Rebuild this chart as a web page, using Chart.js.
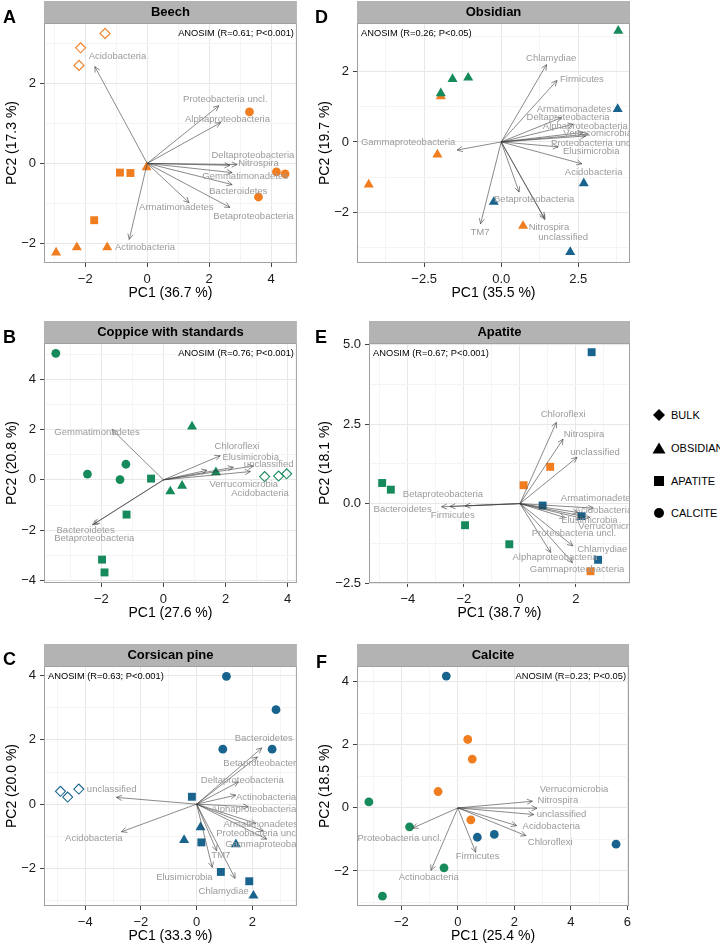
<!DOCTYPE html>
<html lang="en">
<head>
<meta charset="UTF-8" />
<title>PCA biplots by forest and mineral</title>
<script src="https://cdn.jsdelivr.net/npm/chart.js"></script>
<style>
  html, body { margin: 0; padding: 0; background: #fff; overflow: hidden; }
  body { width: 720px; height: 946px; position: relative; font-family: "Liberation Sans", Arial, sans-serif; }
  canvas { position: absolute; }
  .tag { position: absolute; font-weight: bold; font-size: 18px; line-height: 18px; color: #000; }
  .key { position: absolute; left: 652px; height: 14px; display: flex; align-items: center; font-size: 11px; color: #000; }
  .key svg { width: 14px; height: 14px; margin-right: 5px; }
</style>
</head>
<body>

<div class="key" style="top:408px"><svg viewBox="0 0 14 14"><polygon points="7,1 13,7 7,13 1,7" fill="#000"/></svg>BULK</div>
<div class="key" style="top:441px"><svg viewBox="0 0 14 14"><polygon points="7,1.5 13.5,12.5 0.5,12.5" fill="#000"/></svg>OBSIDIAN</div>
<div class="key" style="top:474px"><svg viewBox="0 0 14 14"><rect x="2" y="2" width="10" height="10" fill="#000"/></svg>APATITE</div>
<div class="key" style="top:506px"><svg viewBox="0 0 14 14"><circle cx="7" cy="7" r="5" fill="#000"/></svg>CALCITE</div>

<script>
// ---- data: samples are [forest, mineral, PC1, PC2] ----
const beechSamples = [
  ['beech', 'bulk', -1.36, 3.25], ['beech', 'bulk', -2.15, 2.89], ['beech', 'bulk', -2.2, 2.45],
  ['beech', 'apatite', -0.88, -0.23], ['beech', 'apatite', -0.54, -0.24], ['beech', 'apatite', -1.71, -1.42],
  ['beech', 'obsidian', -0.02, -0.1], ['beech', 'obsidian', -2.94, -2.23], ['beech', 'obsidian', -2.27, -2.1], ['beech', 'obsidian', -1.29, -2.1],
  ['beech', 'calcite', 3.3, 1.29], ['beech', 'calcite', 4.17, -0.21], ['beech', 'calcite', 4.45, -0.26], ['beech', 'calcite', 3.59, -0.84]
];
const coppiceSamples = [
  ['coppice', 'calcite', -3.47, 5.03], ['coppice', 'calcite', -2.45, 0.23], ['coppice', 'calcite', -1.21, 0.62], ['coppice', 'calcite', -1.4, 0.01],
  ['coppice', 'apatite', -0.4, 0.05], ['coppice', 'apatite', -1.19, -1.38], ['coppice', 'apatite', -1.98, -3.17], ['coppice', 'apatite', -1.9, -3.68],
  ['coppice', 'obsidian', 0.92, 2.12], ['coppice', 'obsidian', 1.69, 0.3], ['coppice', 'obsidian', 0.22, -0.46], ['coppice', 'obsidian', 0.6, -0.24],
  ['coppice', 'bulk', 3.26, 0.13], ['coppice', 'bulk', 3.71, 0.15], ['coppice', 'bulk', 3.97, 0.24]
];
const pineSamples = [
  ['pine', 'calcite', 1.07, 3.98], ['pine', 'calcite', 2.85, 2.94], ['pine', 'calcite', 0.94, 1.71], ['pine', 'calcite', 2.71, 1.71],
  ['pine', 'bulk', -4.89, 0.4], ['pine', 'bulk', -4.63, 0.22], ['pine', 'bulk', -4.23, 0.47],
  ['pine', 'apatite', -0.17, 0.23], ['pine', 'apatite', 0.17, -1.19], ['pine', 'apatite', 0.87, -2.11], ['pine', 'apatite', 1.89, -2.4],
  ['pine', 'obsidian', 0.14, -0.72], ['pine', 'obsidian', -0.45, -1.12], ['pine', 'obsidian', 1.41, -1.25], ['pine', 'obsidian', 2.04, -2.85]
];
const obsidianSamples = [
  ['coppice', 'obsidian', 3.8, 3.15], ['coppice', 'obsidian', -1.58, 1.78], ['coppice', 'obsidian', -1.07, 1.82], ['coppice', 'obsidian', -1.96, 1.38],
  ['beech', 'obsidian', -1.96, 1.29], ['beech', 'obsidian', -2.07, -0.36], ['beech', 'obsidian', -4.3, -1.21], ['beech', 'obsidian', 0.71, -2.38],
  ['pine', 'obsidian', 3.78, 0.93], ['pine', 'obsidian', 2.68, -1.17], ['pine', 'obsidian', -0.24, -1.7], ['pine', 'obsidian', 2.24, -3.12]
];
const apatiteSamples = [
  ['beech', 'apatite', 1.08, 1.16], ['beech', 'apatite', 0.13, 0.58], ['beech', 'apatite', 2.52, -2.13],
  ['pine', 'apatite', 2.56, 4.77], ['pine', 'apatite', 0.81, -0.06], ['pine', 'apatite', 2.2, -0.39], ['pine', 'apatite', 2.79, -1.77],
  ['coppice', 'apatite', -4.92, 0.65], ['coppice', 'apatite', -4.61, 0.44], ['coppice', 'apatite', -1.96, -0.68], ['coppice', 'apatite', -0.38, -1.28]
];
const calciteSamples = [
  ['pine', 'calcite', -0.41, 4.18], ['pine', 'calcite', 0.69, -0.93], ['pine', 'calcite', 1.29, -0.84], ['pine', 'calcite', 5.6, -1.15],
  ['beech', 'calcite', 0.35, 2.17], ['beech', 'calcite', 0.51, 1.55], ['beech', 'calcite', -0.7, 0.52], ['beech', 'calcite', 0.46, -0.38],
  ['coppice', 'calcite', -3.15, 0.19], ['coppice', 'calcite', -1.71, -0.6], ['coppice', 'calcite', -0.49, -1.9], ['coppice', 'calcite', -2.67, -2.8]
];

// ---- loadings: [taxon, tip PC1, tip PC2, label PC1, label PC2] ----
const beechArrows = [
  ['Acidobacteria', -1.69, 2.42, -0.96, 2.67],
  ['Proteobacteria uncl.', 2.31, 1.44, 2.52, 1.6],
  ['Alphaproteobacteria', 2.37, 1.02, 2.59, 1.11],
  ['Deltaproteobacteria', 2.67, -0.05, 3.41, 0.21],
  ['Nitrospira', 2.9, -0.03, 3.59, -0.01],
  ['Gemmatimonadetes', 2.74, -0.23, 3.16, -0.33],
  ['Bacteroidetes', 2.74, -0.53, 2.94, -0.71],
  ['Betaproteobacteria', 2.67, -1.1, 3.43, -1.33],
  ['Armatimonadetes', 1.35, -0.98, 0.94, -1.09],
  ['Actinobacteria', -0.58, -1.9, -0.07, -2.11]
];
const coppiceArrows = [
  ['Gemmatimonadetes', -1.66, 2.0, -2.14, 1.89],
  ['Chloroflexi', 1.83, 0.96, 2.37, 1.32],
  ['Elusimicrobia', 2.25, 0.5, 2.81, 0.9],
  ['unclassified', 2.9, 0.55, 3.39, 0.62],
  ['Verrucomicrobia', 2.8, 0.33, 2.59, -0.19],
  ['Acidobacteria', 1.4, 0.38, 3.11, -0.52],
  ['Bacteroidetes', -2.29, -1.79, -2.51, -2.0],
  ['Betaproteobacteria', -2.23, -1.75, -2.23, -2.31]
];
const pineArrows = [
  ['unclassified', -2.88, 0.21, -3.05, 0.47],
  ['Acidobacteria', -2.7, -0.86, -3.69, -1.07],
  ['Bacteroidetes', 2.34, 1.75, 2.41, 2.05],
  ['Betaproteobacteria', 2.18, 1.47, 2.4, 1.26],
  ['Deltaproteobacteria', 1.5, 0.69, 1.64, 0.75],
  ['Actinobacteria', 1.41, 0.28, 2.49, 0.2],
  ['Alphaproteobacteria', 1.86, -0.08, 2.05, -0.17],
  ['Armatimonadetes', 2.13, -0.6, 2.3, -0.62],
  ['Proteobacteria uncl.', 2.4, -0.84, 2.22, -0.91],
  ['Gammaproteobacteria', 2.52, -1.09, 2.72, -1.25],
  ['TM7', 0.72, -1.45, 0.87, -1.58],
  ['Elusimicrobia', 0.56, -1.97, -0.44, -2.28],
  ['Chlamydiae', 1.38, -2.31, 0.97, -2.7]
];
const obsidianArrows = [
  ['Chlamydiae', 1.47, 2.19, 1.62, 2.38],
  ['Firmicutes', 1.81, 1.74, 2.62, 1.78],
  ['Armatimonadetes', 1.96, 0.69, 2.36, 0.92],
  ['Deltaproteobacteria', 2.34, 0.5, 2.17, 0.7],
  ['Alphaproteobacteria', 2.66, 0.27, 2.73, 0.43],
  ['Verrucomicrobia', 2.83, 0.22, 3.13, 0.24],
  ['Proteobacteria uncl.', 1.85, -0.14, 2.99, -0.03],
  ['Elusimicrobia', 2.74, 0.17, 2.92, -0.28],
  ['Acidobacteria', 2.62, -0.62, 3.0, -0.87],
  ['Betaproteobacteria', 0.58, -1.42, 1.07, -1.62],
  ['Nitrospira', 1.42, -2.2, 1.55, -2.41],
  ['unclassified', 1.4, -2.15, 2.01, -2.7],
  ['TM7', -0.67, -2.32, -0.69, -2.56],
  ['Gammaproteobacteria', -1.43, -0.23, -3.02, -0.02]
];
const apatiteArrows = [
  ['Chloroflexi', 1.3, 2.56, 1.54, 2.8],
  ['Nitrospira', 1.54, 2.03, 2.29, 2.17],
  ['unclassified', 2.04, 1.46, 2.68, 1.61],
  ['Betaproteobacteria', -2.5, -0.09, -2.75, 0.29],
  ['Bacteroidetes', -2.8, -0.1, -4.19, -0.19],
  ['Firmicutes', -1.96, -0.07, -2.4, -0.38],
  ['Armatimonadetes', 2.62, -0.14, 2.79, 0.17],
  ['Acidobacteria', 2.5, -0.44, 2.98, -0.22],
  ['Elusimicrobia', 2.08, -0.28, 2.48, -0.53],
  ['Verrucomicrobia', 2.2, -0.46, 3.31, -0.71],
  ['Proteobacteria uncl.', 1.61, -0.44, 1.93, -0.94],
  ['Chlamydiae', 1.89, -1.33, 2.94, -1.44],
  ['Alphaproteobacteria', 1.1, -1.54, 1.25, -1.7],
  ['Gammaproteobacteria', 1.88, -1.86, 2.04, -2.07]
];
const calciteArrows = [
  ['Verrucomicrobia', 2.64, 0.21, 4.11, 0.6],
  ['Nitrospira', 2.8, -0.01, 3.54, 0.24],
  ['unclassified', 2.69, -0.21, 3.67, -0.21],
  ['Acidobacteria', 2.08, -0.56, 3.31, -0.58],
  ['Chloroflexi', 2.41, -0.88, 3.27, -1.1],
  ['Firmicutes', 0.63, -1.4, 0.7, -1.55],
  ['Actinobacteria', -0.95, -1.98, -1.03, -2.2],
  ['Proteobacteria uncl.', -1.6, -0.64, -2.06, -0.98]
];

// ---- major tick labels ----
const beechXTicks = [-2, 0, 2, 4],     beechYTicks = [-2, 0, 2];
const coppiceXTicks = [-2, 0, 2, 4],   coppiceYTicks = [-4, -2, 0, 2, 4];
const pineXTicks = [-4, -2, 0, 2],     pineYTicks = [-2, 0, 2, 4];
const obsidianXTicks = [-2.5, 0, 2.5], obsidianYTicks = [-2, 0, 2];
const apatiteXTicks = [-4, -2, 0, 2],  apatiteYTicks = [-2.5, 0, 2.5, 5];
const calciteXTicks = [-2, 0, 2, 4, 6], calciteYTicks = [-2, 0, 2, 4];

// ---- styling ----
const FONT = '"Liberation Sans", Arial, Helvetica, sans-serif';
const STRIP = 22, XAXIS_H = 43;
const ARROW = 'rgba(60,60,60,0.6)';
const forestColor = { beech: '#F07D1F', coppice: '#168A5A', pine: '#18648E' };
const mineralStyle = {
  bulk:     { pointStyle: 'rectRot',  radius: 5,   open: true },
  obsidian: { pointStyle: 'triangle', radius: 5.8 },
  apatite:  { pointStyle: 'rect',     radius: 5.6 },
  calcite:  { pointStyle: 'circle',   radius: 4.4 }
};
Chart.defaults.font.family = FONT;

const panels = [
  { tag: 'A', tagPos: [3, 8], box: [0, 1, 303, 305], yAxisW: 44, title: 'Beech',
    samples: beechSamples, arrows: beechArrows, xTicks: beechXTicks, yTicks: beechYTicks,
    x: [-3.33, 4.83], y: [-2.49, 3.51], dec: 0, xTitle: 'PC1 (36.7 %)', yTitle: 'PC2 (17.3 %)',
    anosim: 'ANOSIM (R=0.61; P<0.001)', anosimRight: true },
  { tag: 'D', tagPos: [315, 8], box: [313, 1, 323, 305], yAxisW: 44, title: 'Obsidian',
    samples: obsidianSamples, arrows: obsidianArrows, xTicks: obsidianXTicks, yTicks: obsidianYTicks,
    x: [-4.68, 4.18], y: [-3.43, 3.37], dec: 1, yDec: 0, xTitle: 'PC1 (35.5 %)', yTitle: 'PC2 (19.7 %)',
    anosim: 'ANOSIM (R=0.26; P<0.05)', anosimRight: false },
  { tag: 'B', tagPos: [3, 328], box: [0, 321, 303, 305], yAxisW: 44, title: 'Coppice with standards',
    samples: coppiceSamples, arrows: coppiceArrows, xTicks: coppiceXTicks, yTicks: coppiceYTicks,
    x: [-3.85, 4.3], y: [-4.1, 5.44], dec: 0, xTitle: 'PC1 (27.6 %)', yTitle: 'PC2 (20.8 %)',
    anosim: 'ANOSIM (R=0.76; P<0.001)', anosimRight: true },
  { tag: 'E', tagPos: [315, 328], box: [313, 321, 323, 305], yAxisW: 56, title: 'Apatite',
    samples: apatiteSamples, arrows: apatiteArrows, xTicks: apatiteXTicks, yTicks: apatiteYTicks,
    x: [-5.39, 3.93], y: [-2.5, 5.06], dec: 0, yDec: 1, xTitle: 'PC1 (38.7 %)', yTitle: 'PC2 (18.1 %)',
    anosim: 'ANOSIM (R=0.67; P<0.001)', anosimRight: false },
  { tag: 'C', tagPos: [3, 650], box: [0, 644, 303, 305], yAxisW: 44, title: 'Corsican pine',
    samples: pineSamples, arrows: pineArrows, xTicks: pineXTicks, yTicks: pineYTicks,
    x: [-5.48, 3.6], y: [-3.17, 4.3], dec: 0, xTitle: 'PC1 (33.3 %)', yTitle: 'PC2 (20.0 %)',
    anosim: 'ANOSIM (R=0.63; P<0.001)', anosimRight: false },
  { tag: 'F', tagPos: [316, 653], box: [313, 644, 323, 305], yAxisW: 44, title: 'Calcite',
    samples: calciteSamples, arrows: calciteArrows, xTicks: calciteXTicks, yTicks: calciteYTicks,
    x: [-3.57, 6.06], y: [-3.11, 4.5], dec: 0, xTitle: 'PC1 (25.4 %)', yTitle: 'PC2 (18.5 %)',
    anosim: 'ANOSIM (R=0.23; P<0.05)', anosimRight: true }
];

function fmt(v, dec) {
  return (v < -1e-9 ? '\u2212' : '') + Math.abs(v).toFixed(dec);
}

// majors from the arrays, light minor lines half way between them
function buildTicks(majors, lo, hi) {
  const step = majors[1] - majors[0];
  const out = [[majors[0] - step / 2, false]];
  majors.forEach(v => { out.push([v, true]); out.push([v + step / 2, false]); });
  return out.filter(([v]) => v >= lo - 1e-9 && v <= hi + 1e-9)
    .sort((a, b) => a[0] - b[0])
    .map(([v, m]) => ({ value: v, isMajor: m }));
}

function axis(p, isX) {
  const ticks = isX ? p.xTicks : p.yTicks;
  const [lo, hi] = isX ? p.x : p.y;
  const dec = isX ? p.dec : (p.yDec !== undefined ? p.yDec : p.dec);
  return {
    type: 'linear', min: lo, max: hi, bounds: 'data',
    afterBuildTicks: s => { s.ticks = buildTicks(ticks, lo, hi); },
    afterFit: s => { if (isX) s.height = XAXIS_H; else s.width = p.yAxisW; },
    grid: {
      color: c => (c.tick && c.tick.isMajor) ? '#e8e8e8' : '#f4f4f4',
      tickColor: c => (c.tick && c.tick.isMajor) ? '#444' : 'rgba(0,0,0,0)',
      tickLength: 4, lineWidth: 1
    },
    border: { display: false },
    ticks: {
      autoSkip: false, maxRotation: 0, padding: isX ? 5 : 4, color: '#1a1a1a', font: { size: 13 },
      callback: (v, i, t) => t[i].isMajor ? fmt(v, dec) : ''
    },
    title: { display: true, text: isX ? p.xTitle : p.yTitle, color: '#000', font: { size: 14 }, padding: { top: 4, bottom: 4 } }
  };
}

function pointSets(samples) {
  const groups = [];
  samples.forEach(([forest, mineral, x, y]) => {
    let g = groups.find(g => g.forest === forest && g.mineral === mineral);
    if (!g) { g = { forest, mineral, data: [] }; groups.push(g); }
    g.data.push({ x, y });
  });
  return groups.map((g, i) => {
    const st = mineralStyle[g.mineral], col = forestColor[g.forest];
    return {
      type: 'scatter', data: g.data, order: 1 + i,
      pointStyle: st.pointStyle, pointRadius: st.radius, pointHoverRadius: st.radius,
      backgroundColor: st.open ? 'rgba(0,0,0,0)' : col,
      borderColor: col, borderWidth: st.open ? 1.1 : 0
    };
  });
}

function arrowSets(arrows) {
  return arrows.map(([name, x, y]) => ({
    type: 'line', label: name, data: [{ x: 0, y: 0 }, { x, y }], order: 0,
    showLine: true, borderColor: ARROW, borderWidth: 1, pointRadius: 0, tension: 0
  }));
}

function decor(p) {
  return {
    id: 'decor',
    beforeDraw(chart) {
      const { ctx, chartArea: a } = chart;
      ctx.save();
      ctx.fillStyle = '#b3b3b3';
      ctx.fillRect(a.left, a.top - STRIP, a.right - a.left, STRIP);
      ctx.fillStyle = '#000';
      ctx.font = 'bold 13px ' + FONT;
      ctx.textAlign = 'center';
      ctx.textBaseline = 'middle';
      ctx.fillText(p.title, (a.left + a.right) / 2, a.top - STRIP / 2);
      ctx.restore();
    },
    afterDatasetsDraw(chart) {
      const { ctx, chartArea: a, scales: { x, y } } = chart;
      const ox = x.getPixelForValue(0), oy = y.getPixelForValue(0);
      ctx.save();
      ctx.beginPath();
      ctx.rect(a.left, a.top, a.right - a.left, a.bottom - a.top);
      ctx.clip();
      // open arrow heads
      ctx.strokeStyle = ARROW;
      ctx.lineWidth = 1;
      p.arrows.forEach(([, ax, ay]) => {
        const px = x.getPixelForValue(ax), py = y.getPixelForValue(ay);
        const ang = Math.atan2(py - oy, px - ox);
        ctx.beginPath();
        ctx.moveTo(px - 6 * Math.cos(ang - 0.45), py - 6 * Math.sin(ang - 0.45));
        ctx.lineTo(px, py);
        ctx.lineTo(px - 6 * Math.cos(ang + 0.45), py - 6 * Math.sin(ang + 0.45));
        ctx.stroke();
      });
      // taxon labels
      ctx.fillStyle = '#9b9b9b';
      ctx.font = '9.5px ' + FONT;
      ctx.textAlign = 'center';
      ctx.textBaseline = 'middle';
      p.arrows.forEach(([name, , , lx, ly]) => {
        ctx.fillText(name, x.getPixelForValue(lx), y.getPixelForValue(ly));
      });
      // ANOSIM note
      ctx.fillStyle = '#000';
      ctx.font = '9.3px ' + FONT;
      ctx.textAlign = p.anosimRight ? 'right' : 'left';
      ctx.fillText(p.anosim, p.anosimRight ? a.right - 3 : a.left + 4, a.top + 10);
      ctx.restore();

      ctx.save();
      ctx.strokeStyle = '#a0a0a0';
      ctx.lineWidth = 1;
      ctx.strokeRect(a.left + 0.5, a.top + 0.5, a.right - a.left - 1, a.bottom - a.top - 1);
      ctx.restore();
    }
  };
}

panels.forEach(p => {
  const [left, top, w, h] = p.box;
  const cv = document.createElement('canvas');
  cv.width = w; cv.height = h;
  cv.style.left = left + 'px';
  cv.style.top = top + 'px';
  document.body.appendChild(cv);

  const tag = document.createElement('div');
  tag.className = 'tag';
  tag.textContent = p.tag;
  tag.style.left = p.tagPos[0] + 'px';
  tag.style.top = p.tagPos[1] + 'px';
  document.body.appendChild(tag);

  new Chart(cv, {
    type: 'scatter',
    data: { datasets: [...arrowSets(p.arrows), ...pointSets(p.samples)] },
    options: {
      responsive: false, animation: false, devicePixelRatio: 1, events: [],
      layout: { padding: { top: STRIP, right: 6, left: 0, bottom: 0 } },
      plugins: { legend: { display: false }, tooltip: { enabled: false } },
      scales: { x: axis(p, true), y: axis(p, false) }
    },
    plugins: [decor(p)]
  });
});
</script>
</body>
</html>
